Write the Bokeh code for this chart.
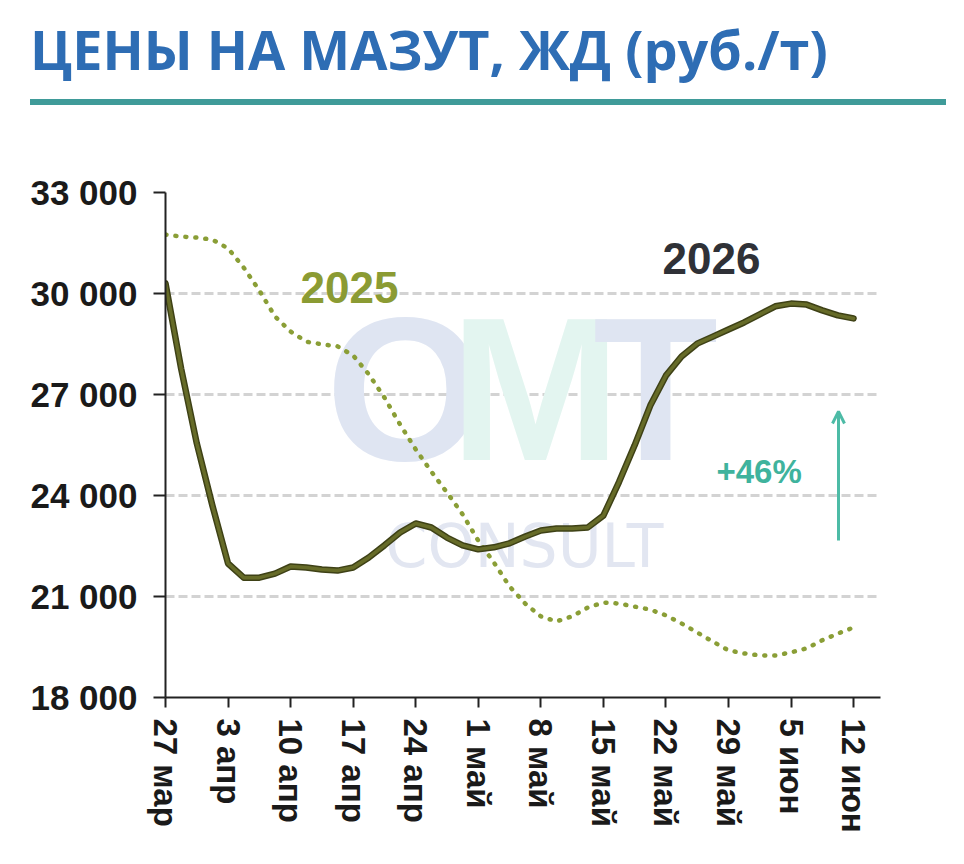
from bokeh.plotting import figure
from bokeh.layouts import column
from bokeh.models import Range1d, FixedTicker, Label, Arrow, OpenHead, Div
from bokeh.core.properties import value
from bokeh.embed import file_html
from bokeh.resources import INLINE

# ---------------- data ----------------
week_labels = ["27 мар", "3 апр", "10 апр", "17 апр", "24 апр", "1 май",
               "8 май", "15 май", "22 май", "29 май", "5 июн", "12 июн"]
week_ticks = [0, 1, 2, 3, 4, 5, 6, 7, 8, 9, 10, 11]

sample_pos = [0, 0.25, 0.5, 0.75, 1, 1.25, 1.5, 1.75, 2, 2.25, 2.5, 2.75,
              3, 3.25, 3.5, 3.75, 4, 4.25, 4.5, 4.75, 5, 5.25, 5.5, 5.75,
              6, 6.25, 6.5, 6.75, 7, 7.25, 7.5, 7.75, 8, 8.25, 8.5, 8.75,
              9, 9.25, 9.5, 9.75, 10, 10.25, 10.5, 10.75, 11]

price_2026 = [30300, 27770, 25550, 23700, 21980, 21560, 21560, 21680,
              21890, 21860, 21800, 21770, 21860, 22160, 22520, 22900,
              23170, 23050, 22750, 22520, 22400, 22460, 22580, 22780,
              22960, 23020, 23020, 23050, 23400, 24400, 25490, 26670,
              27560, 28130, 28510, 28720, 28930, 29140, 29380, 29620,
              29700, 29670, 29500, 29350, 29260]

price_2025 = [31750, 31690, 31660, 31600, 31340, 30770, 30090, 29320,
              28870, 28570, 28490, 28430, 28160, 27600, 26910, 26110,
              25370, 24710, 24090, 23440, 22660, 22010, 21300, 20790,
              20410, 20260, 20410, 20670, 20820, 20790, 20700, 20610,
              20440, 20200, 19930, 19660, 19400, 19310, 19250, 19250,
              19340, 19460, 19700, 19900, 20080]

y_ticks = [18000, 21000, 24000, 27000, 30000, 33000]
y_tick_labels = ["18 000", "21 000", "24 000", "27 000", "30 000", "33 000"]

title_text = "ЦЕНЫ НА МАЗУТ, ЖД (руб./т)"
label_2025 = "2025"
label_2026 = "2026"
label_change = "+46%"

# ---------------- layout helpers ----------------
W, H = 964, 864
HEAD = 130                       # height of the title band (incl. Div margins)
FL, FR, FT, FB = 165, 880, 192, 697   # chart frame in page pixels
X0, X1 = 0.0, (FR - FL) / 62.55
Y0, Y1 = 18000, 33000
SHIFT = 0.35                     # baseline compensation (em)


def X(px):
    return X0 + (px - FL) / (FR - FL) * (X1 - X0)


def Y(py):
    return Y1 - (py - FT) / (FB - FT) * (Y1 - Y0)


def YB(py_baseline, fs):
    return Y(py_baseline - SHIFT * fs)


LABEL_FONT = "'Liberation Sans', Arial, sans-serif"

# ---------------- title band (Div has a default 5px margin) ----------------
head_html = (
    '<div style="position:relative;width:954px;height:120px;background:white;">'
    '<div style="position:absolute;left:25px;top:17px;white-space:nowrap;'
    "font-family:'Open Sans',sans-serif;font-weight:bold;font-size:54px;"
    'line-height:54px;color:#2e6db4;">%s</div>'
    '<div style="position:absolute;left:25px;top:94px;width:916px;height:6px;'
    'background:#3f9b99;"></div>'
    '</div>' % title_text
)
head = Div(text=head_html, width=W - 10, height=HEAD - 10)

# ---------------- chart ----------------
p = figure(width=W, height=H - HEAD, x_range=Range1d(X0, X1), y_range=Range1d(Y0, Y1),
           output_backend="svg", toolbar_location=None,
           min_border_left=FL, min_border_right=W - FR,
           min_border_top=FT - HEAD, min_border_bottom=H - FB)
p.outline_line_color = None
p.background_fill_color = "white"
p.border_fill_color = "white"

# grid
p.xgrid.visible = False
p.ygrid.ticker = FixedTicker(ticks=y_ticks)
p.ygrid.grid_line_color = "#d3d3d3"
p.ygrid.grid_line_width = 3
p.ygrid.grid_line_dash = "9 4"

# axes
for ax in (p.xaxis[0], p.yaxis[0]):
    ax.axis_line_color = "#222222"
    ax.axis_line_width = 2
    ax.major_tick_line_color = "#222222"
    ax.major_tick_line_width = 2
    ax.minor_tick_line_color = None
    ax.major_tick_in = 0
    ax.major_label_text_font = LABEL_FONT
    ax.major_label_text_font_style = "bold"
    ax.major_label_text_color = "#1a1a1a"

p.yaxis.ticker = FixedTicker(ticks=y_ticks)
p.yaxis.major_label_overrides = {t: l for t, l in zip(y_ticks, y_tick_labels)}
p.yaxis.major_tick_out = 12
p.yaxis.major_label_standoff = 16
p.yaxis.major_label_text_font_size = "35px"

p.xaxis.ticker = FixedTicker(ticks=week_ticks)
p.xaxis.major_label_overrides = {t: l for t, l in zip(week_ticks, week_labels)}
p.xaxis.major_label_orientation = "vertical"
p.xaxis.major_tick_out = 10
p.xaxis.major_label_standoff = 11
p.xaxis.major_label_text_font_size = "33px"

# watermark
WFS = 205
wm_font = value("'Liberation Sans Narrow', 'Liberation Sans', sans-serif")
for ch, cx, col in (("O", 405, "#dfe5f2"), ("M", 535, "#e3f5f0"), ("T", 655, "#dfe5f2")):
    p.text(x=[X(cx)], y=[YB(460, WFS)], text=[ch], text_font=wm_font,
           text_font_size=f"{WFS}px", text_font_style="bold", text_align="center",
           text_baseline="alphabetic", text_color=col)
CFS = 60
p.text(x=[X(524)], y=[YB(566, CFS)], text=["CONSULT"],
       text_font=value("'DejaVu Sans', sans-serif"), text_font_size=f"{CFS}px",
       text_align="center", text_baseline="alphabetic", text_color="#e2e6f1")

# series
p.line(sample_pos, price_2025, line_color="#8a9e36", line_width=4.5,
       line_dash="1 9", line_cap="round")
p.line(sample_pos, price_2026, line_color="#3e4116", line_width=6.5,
       line_join="round", line_cap="round")
p.line(sample_pos, price_2026, line_color="#666b28", line_width=3.5,
       line_join="round", line_cap="round")

# annotations
p.add_layout(Label(x=X(300), y=YB(302, 44), text=label_2025, text_font=LABEL_FONT,
                   text_font_size="44px", text_font_style="bold", text_color="#8b9b33",
                   text_baseline="alphabetic"))
p.add_layout(Label(x=X(662), y=YB(273, 44), text=label_2026, text_font=LABEL_FONT,
                   text_font_size="44px", text_font_style="bold", text_color="#2f3137",
                   text_baseline="alphabetic"))
p.add_layout(Label(x=X(716), y=YB(483, 33), text=label_change, text_font=LABEL_FONT,
                   text_font_size="33px", text_font_style="bold", text_color="#3fb39d",
                   text_baseline="alphabetic"))
p.add_layout(Arrow(end=OpenHead(size=12, line_color="#4dbba6", line_width=3),
                   x_start=X(838), y_start=Y(540), x_end=X(838), y_end=Y(411),
                   line_color="#4dbba6", line_width=3))

layout = column(head, p)
open("out.html", "w").write(file_html(layout, INLINE))
